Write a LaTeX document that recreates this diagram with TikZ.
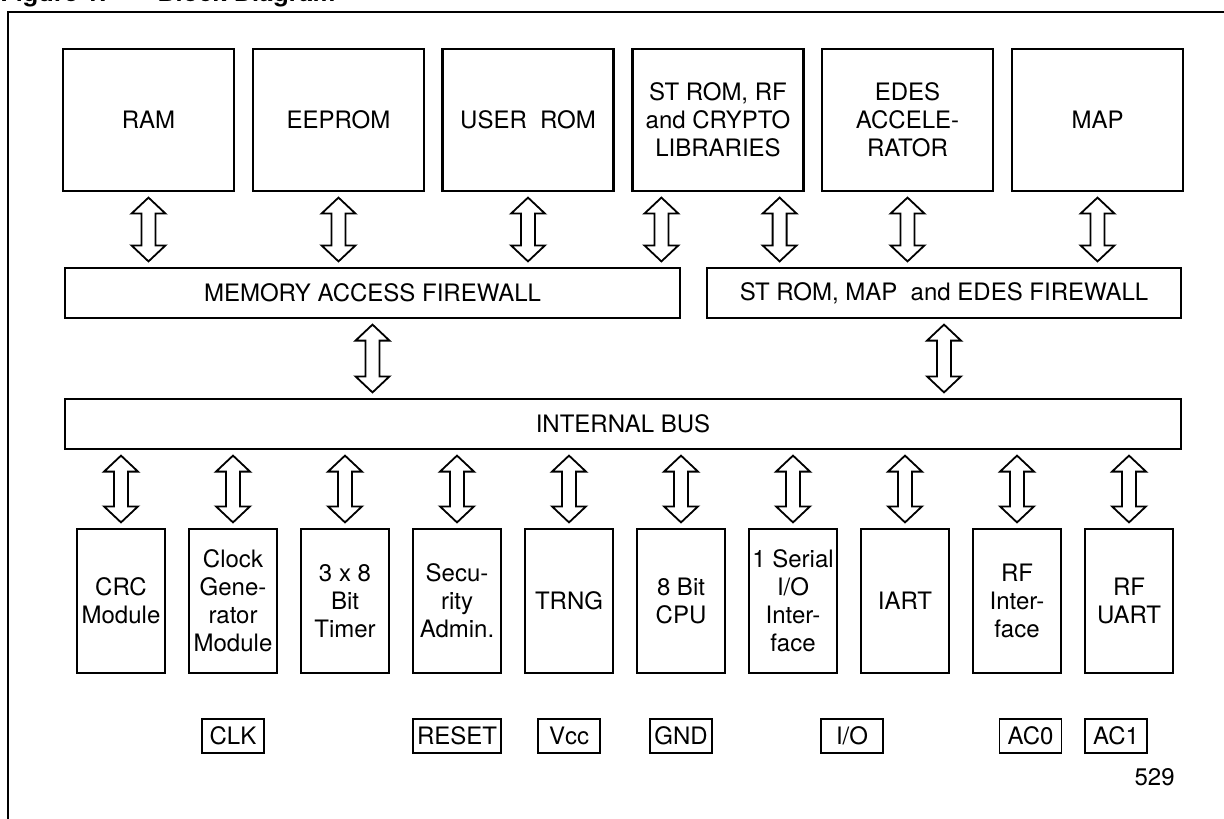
\documentclass[tikz,border=0pt]{standalone}
\usepackage{fontspec}
\setmainfont{TeX Gyre Heros}
\usetikzlibrary{calc}
\tikzset{
  blk/.style={draw, line width=1.1pt, inner sep=0pt, align=center, font=\fontsize{12}{14}\selectfont},
  topbox/.style={blk, minimum width=85.5pt, minimum height=71pt},
  fwbox/.style={blk, minimum height=25pt},
  botbox/.style={blk, minimum width=44pt, minimum height=72pt},
  pinbox/.style={draw, line width=0.9pt, inner sep=0pt, minimum width=31pt, minimum height=17pt, font=\fontsize{12}{14}\selectfont},
  framelin/.style={line width=0.6pt},
  arr/.style={draw, line width=0.9pt, fill=white, line join=miter},
  ttl/.style={anchor=base west, inner sep=0pt, font=\fontsize{12.7}{14}\selectfont\bfseries},
}
% vertical hollow double arrow between two points (top, bottom)
\newcommand{\dblarr}[2]{\draw[arr] let \p1=(#1), \p2=(#2) in
  (\x1,\y1-2.75pt) -- (\x1+8.5pt,\y1-10.75pt) -- (\x1+3.5pt,\y1-10.75pt) --
  (\x1+3.5pt,\y2+10.75pt) -- (\x1+8.5pt,\y2+10.75pt) -- (\x1,\y2+2.75pt) --
  (\x1-8.5pt,\y2+10.75pt) -- (\x1-3.5pt,\y2+10.75pt) --
  (\x1-3.5pt,\y1-10.75pt) -- (\x1-8.5pt,\y1-10.75pt) -- cycle;}
\begin{document}
\begin{tikzpicture}[x=0.5pt,y=-0.5pt]
\useasboundingbox (0,0) rectangle (1224,818);
% title (cut at top) and frame
\node[ttl] (fig) at (0,2) {Figure 1.};
\node[ttl] (title) at (157,2) {Block Diagram};
\draw[framelin] (8,830) -- (8,12) -- (1240,12);

% top row
\node[topbox] (ram)   at (148.5,120) {RAM};
\node[topbox] (eep)   at (338.5,120) {EEPROM};
\node[topbox] (urom)  at (528,120) {USER\ \ ROM};
\node[topbox] (strom) at (718,120) {ST ROM, RF\\and CRYPTO\\LIBRARIES};
\node[topbox] (edes)  at (907.5,120) {EDES\\ACCELE-\\RATOR};
\node[topbox] (map)   at (1097.5,120) {MAP};

% firewalls
\node[fwbox, minimum width=307.5pt] (maf) at (372.5,293) {MEMORY ACCESS FIREWALL};
\node[fwbox, minimum width=237pt] (sfw) at (944,293) {ST ROM, MAP\ \ and EDES FIREWALL};

% bus
\node[fwbox, minimum width=558pt] (bus) at (623,424) {INTERNAL BUS};

% bottom row
\node[botbox] (crc)  at (121,601) {CRC\\Module};
\node[botbox] (clk)  at (233,601) {Clock\\Gene-\\rator\\Module};
\node[botbox] (tim)  at (345,601) {3 x 8\\Bit\\Timer};
\node[botbox] (sec)  at (457,601) {Secu-\\rity\\Admin.};
\node[botbox] (trng) at (569,601) {TRNG};
\node[botbox] (cpu)  at (681,601) {8 Bit\\CPU};
\node[botbox] (sio)  at (793,601) {1 Serial\\I/O\\Inter-\\face};
\node[botbox] (iart) at (905,601) {IART};
\node[botbox] (rfi)  at (1017,601) {RF\\Inter-\\face};
\node[botbox] (rfu)  at (1129,601) {RF\\UART};

% pins
\node[pinbox] (pclk) at (233,736) {CLK};
\node[pinbox, minimum width=44pt] (prst) at (457,736) {RESET};
\node[pinbox] (pvcc) at (569,736) {Vcc};
\node[pinbox] (pgnd) at (681,736) {GND};
\node[pinbox] (pio)  at (852,736) {I/O};
\node[pinbox] (pac0) at (1030.5,736) {AC0};
\node[pinbox] (pac1) at (1116,736) {AC1};

\node[anchor=base east, inner sep=0pt, font=\fontsize{12}{14}\selectfont] (num) at (1175,785) {529};

% arrows: top row to firewalls
\dblarr{ram.south}{ram.south |- maf.north}
\dblarr{eep.south}{eep.south |- maf.north}
\dblarr{urom.south}{urom.south |- maf.north}
\coordinate (sa) at ($(strom.south west)+(30,0)$);
\coordinate (sb) at ($(strom.south east)+(-25,0)$);
\dblarr{sa}{sa |- maf.north}
\dblarr{sb}{sb |- sfw.north}
\dblarr{edes.south}{edes.south |- sfw.north}
\dblarr{map.south}{map.south |- sfw.north}
% firewalls to bus
\dblarr{maf.south}{maf.south |- bus.north}
\dblarr{sfw.south}{sfw.south |- bus.north}
% bus to bottom row
\foreach \bx in {crc,clk,tim,sec,trng,cpu,sio,iart,rfi,rfu}{
  \dblarr{bus.south -| \bx.north}{\bx.north}
}
\end{tikzpicture}
\end{document}
